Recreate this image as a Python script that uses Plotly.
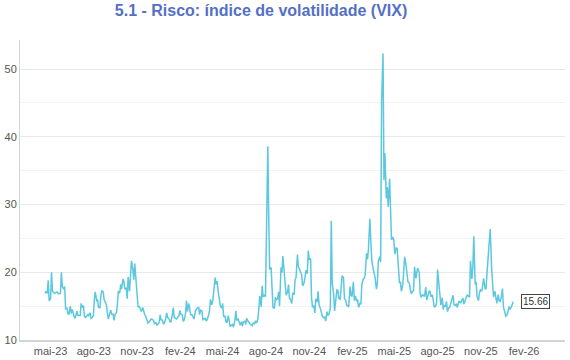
import pandas as pd
import plotly.graph_objects as go

# VIX closes sampled Mon/Wed/Fri, one line per week
vix_2023 = [
    16.9, 17.1,            # wk Apr 17 (Wed, Fri)
    16.9, 18.8, 15.8,
    16.1, 20.0, 17.2,
    17.0, 16.9, 17.0,
    17.1, 16.9, 16.8,
    16.9, 20.0, 17.9,
    17.5, 17.9, 14.6,
    14.7, 13.9, 13.8,
    15.0, 13.9, 14.5,
    13.8, 13.2, 13.4,
    14.25, 13.6, 13.6,
    13.6, 15.4, 14.8,
    15.1, 13.5, 13.3,
    13.5, 13.8, 13.6,
    14.0, 13.2, 13.3,
    13.6, 15.9, 17.1,
    15.8, 15.9, 14.8,
    14.8, 16.5, 17.3,
    17.1, 15.9, 15.7,
    15.1, 13.9, 13.1,
    14.0, 14.4, 13.8,
    13.8, 12.9, 13.8,
    14.0, 15.1, 17.2,
    16.9, 18.2, 17.5,
    19.0, 18.6, 17.5,
    17.7, 16.1, 19.3,
    17.2, 19.2, 21.7,
    20.4, 18.9, 21.3,
    18.0, 16.9, 14.9,
    14.9, 14.5, 14.2,
    14.8, 14.2, 13.8,
    13.4, 12.8, 12.5,
    12.7, 12.9, 13.1,
    13.0, 12.9, 12.35,
    12.6, 12.2, 12.3,
    12.6, 13.7, 13.0,
    12.9, 12.4, 12.45,
]

vix_2024 = [
    13.2, 14.0, 13.35,
    13.1, 12.7, 12.7,
    13.8, 14.8, 13.3,
    13.2, 13.1, 13.3,
    13.6, 14.35, 13.85,
    13.7, 12.8, 12.9,
    13.9, 15.8, 14.2,
    15.4, 14.3, 13.75,
    13.7, 13.4, 13.1,
    14.3, 14.5, 14.7,
    14.8, 13.75, 14.4,
    14.3, 13.0, 13.1,
    13.2, 12.8, 13.0,
    13.65, 14.3, 16.0,
    15.2, 15.8, 17.3,
    19.2, 18.2, 18.7,
    16.9, 15.7, 15.0,
    14.7, 15.4, 13.5,
    13.5, 12.7, 12.55,
    13.6, 12.45, 11.99,
    12.2, 12.3, 11.9,
    12.9, 14.3, 12.9,
    13.1, 12.6, 12.2,
    12.7, 12.0, 12.7,
    12.75, 12.3, 13.2,
    12.8, 12.5, 12.4,
    12.2, 12.1, 12.5,
    12.4, 12.85, 12.5,
    13.1, 14.5, 16.5,
    14.9, 18.0, 16.4,
    16.6, 16.4, 23.4,
    38.6, 27.85, 20.4,
    20.7, 16.2, 14.8,
    14.65, 16.3, 15.9,
    16.15, 17.1, 15.0,
    20.7, 19.95, 22.4,
    19.45, 17.7, 16.6,
    17.1, 18.2, 16.15,
    15.9, 15.4, 16.96,
    16.7, 18.9, 19.2,
    22.6, 20.9, 20.5,
    19.7, 19.6, 18.0,
    18.4, 19.2, 20.3,
    19.8, 23.2, 21.9,
    21.98, 16.3, 14.9,
    14.97, 14.0, 16.1,
    15.6, 17.2, 15.2,
    14.6, 14.1, 13.5,
    13.3, 13.45, 12.8,
    14.2, 13.6, 13.8,
    14.7, 27.6, 18.4,
    16.8, 14.3, 15.95,
    17.4, 17.35, 16.1,
]

vix_2025 = [
    16.04, 17.7, 19.5,
    19.2, 16.1, 15.97,
    15.1, 15.1, 14.85,
    17.9, 16.6, 16.4,
    18.6, 15.8, 16.5,
    15.8, 15.9, 14.8,
    15.4, 15.3, 18.2,
    18.98, 19.1, 19.6,
    22.8, 21.9, 23.4,
    27.9, 24.2, 21.8,
    20.5, 19.9, 19.3,
    17.5, 18.3, 21.65,
    22.3, 21.5, 45.3,
    52.3, 33.6, 37.6,
    30.9, 32.6, 29.7,
    33.8, 28.45, 24.8,
    25.2, 24.7, 22.7,
    23.6, 23.55, 21.9,
    18.4, 18.6, 17.2,
    18.1, 20.9, 22.3,
    21.0, 19.3, 18.6,
    18.4, 17.7, 16.8,
    17.2, 17.3, 20.8,
    19.1, 20.1, 20.6,
    20.0, 16.8, 16.3,
    16.7, 16.6, 16.4,
    17.8, 15.9, 16.4,
    17.2, 17.2, 16.4,
    16.65, 15.4, 14.9,
    15.0, 15.5, 20.4,
    17.5, 16.8, 15.15,
    16.25, 14.5, 15.1,
    15.0, 15.7, 14.2,
    14.8, 14.85, 15.4,
    16.4, 16.6, 15.2,
    15.1, 15.35, 14.8,
    15.7, 15.7, 15.45,
    16.1, 16.2, 15.3,
    16.1, 16.3, 16.65,
    16.4, 16.3, 21.7,
    19.0, 20.6, 25.3,
    18.2, 18.6, 16.4,
    15.8, 16.9, 17.4,
    17.2, 18.0, 19.1,
    17.6, 17.5, 19.8,
    22.4, 23.7, 26.4,
    20.5, 18.6, 16.35,
    17.2, 16.1, 15.4,
    16.7, 15.8, 15.7,
    16.5, 17.6, 14.9,
    14.1, 13.5, 13.6,
    14.2, 14.95, 14.5,
]

vix_2026 = [14.9, 15.4, 15.66]

tick_dates = ["2023-05-01", "2023-08-01", "2023-11-01", "2024-02-01", "2024-05-01",
              "2024-08-01", "2024-11-01", "2025-02-01", "2025-05-01", "2025-08-01",
              "2025-11-01", "2026-02-01"]
tick_labels = ["mai-23", "ago-23", "nov-23", "fev-24", "mai-24", "ago-24",
               "nov-24", "fev-25", "mai-25", "ago-25", "nov-25", "fev-26"]

title_text = "5.1 - Risco: índice de volatilidade (VIX)"

vix = vix_2023 + vix_2024 + vix_2025 + vix_2026
dates = pd.bdate_range(start="2023-04-19", periods=len(vix), freq="C",
                       weekmask="Mon Wed Fri")

line_color = "#5bc8e0"
font_family = "Liberation Sans, Arial, sans-serif"

fig = go.Figure()
fig.add_trace(go.Scatter(
    x=dates, y=vix, mode="lines",
    line=dict(color=line_color, width=1.5),
    hoverinfo="x+y", showlegend=False,
))

fig.add_annotation(
    x=dates[-1], y=vix[-1], text=f"{vix[-1]:.2f}",
    showarrow=False, xanchor="left", yanchor="middle", xshift=8,
    font=dict(size=10, color="#333333", family=font_family),
    bgcolor="white", bordercolor="#444444", borderwidth=1, borderpad=1,
)

fig.update_layout(
    width=570, height=360,
    margin=dict(l=20, r=5, t=40, b=20, autoexpand=False),
    paper_bgcolor="white", plot_bgcolor="white",
    font=dict(family=font_family, size=11, color="#555555"),
    title=dict(text=f"<b>{title_text}</b>", x=0.458, xref="container",
               xanchor="center", y=0.970, yref="container", yanchor="middle",
               automargin=False,
               font=dict(size=16, color="#5470c6", family=font_family)),
    xaxis=dict(
        range=["2023-02-25", "2026-04-29"],
        tickvals=tick_dates, ticktext=tick_labels,
        showgrid=False, zeroline=False, automargin=False,
        showline=True, linecolor="#d4d4d4", linewidth=2,
        ticks="", tickfont=dict(size=11, color="#555555"),
        ticklabelstandoff=0,
    ),
    yaxis=dict(
        range=[10, 54.3], dtick=10, tick0=10, automargin=False,
        showgrid=True, gridcolor="#e8e8e8", gridwidth=1,
        minor=dict(dtick=5, tick0=10, showgrid=True, gridcolor="#f3f3f3", gridwidth=1),
        zeroline=False, showline=True, linecolor="#d4d4d4", linewidth=1,
        ticks="", tickfont=dict(size=11, color="#555555"),
        ticklabelstandoff=0,
    ),
)

fig.write_html(
    "out.html",
    config={"displayModeBar": False},
    post_script="document.body.style.margin='0';document.body.style.padding='0';",
)
